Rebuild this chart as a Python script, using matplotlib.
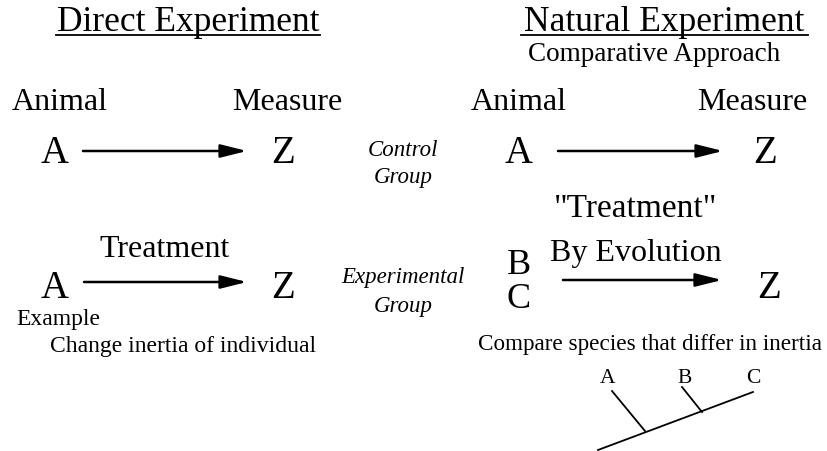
import matplotlib
matplotlib.use('Agg')
import matplotlib.pyplot as plt

plt.rcParams['font.family'] = 'serif'
plt.rcParams['font.serif'] = ['Liberation Serif', 'DejaVu Serif']

W, H = 828, 452

# headings
titles = ["Direct Experiment", "Natural Experiment"]
title_x = [188, 664]
title_span = [(56, 320), (521, 808)]

# column labels
col_labels = ["Animal", "Measure", "Animal", "Measure"]
col_x = [60, 287, 519, 752]

# group labels (italic)
groups = ["Control", "Group", "Experimental", "Group"]
group_y = [156, 183, 283, 312]

# tree tips
species = ["A", "B", "C"]
species_x = [608, 685, 753]

fig = plt.figure(figsize=(W / 100, H / 100), dpi=100)
ax = fig.add_axes([0, 0, 1, 1])
ax.set_xlim(0, W)
ax.set_ylim(H, 0)
ax.axis('off')


def txt(x, y, s, size, **kw):
    ax.text(x, y, s, fontsize=size, ha='center', va='baseline', **kw)


def arrow(x0, x1, y):
    ax.annotate("", xy=(x1, y), xytext=(x0, y),
                arrowprops=dict(arrowstyle="-|>,head_length=1.6,head_width=0.4",
                                color='black', lw=1.8, shrinkA=0, shrinkB=0))


for t, x, (x0, x1) in zip(titles, title_x, title_span):
    txt(x, 31, t, 25.5)
    ax.plot([x0, x1], [36, 36], color='black', lw=1.3)

txt(654, 61, "Comparative Approach", 19.5)

for t, x in zip(col_labels, col_x):
    txt(x, 110, t, 23)

big = 28
# control row
txt(55, 163, "A", big)
txt(283, 163, "Z", big)
arrow(83, 247, 152)
txt(519, 163, "A", big)
txt(765, 163, "Z", big)
arrow(558, 723, 152)

# treatment row, direct
txt(165, 257, "Treatment", 23)
txt(55, 298, "A", big)
txt(283, 298, "Z", big)
arrow(84, 247, 283)
txt(58, 325, "Example", 17)
txt(183, 352, "Change inertia of individual", 17)

# treatment row, natural
txt(636, 217, '"Treatment"', 24)
txt(636, 261, "By Evolution", 23)
txt(519, 274, "B", 26)
txt(519, 308, "C", 26)
arrow(563, 722, 281)
txt(769, 298, "Z", big)
txt(650, 350, "Compare species that differ in inertia", 16.7)

for g, y in zip(groups, group_y):
    txt(403, y, g, 16.5, style='italic')

# phylogeny
for s, x in zip(species, species_x):
    txt(x, 383, s, 15.5)
ax.plot([598, 753], [451, 393], color='black', lw=1.3)
ax.plot([612, 645], [392, 432], color='black', lw=1.3)
ax.plot([682, 702], [388, 413], color='black', lw=1.3)

fig.savefig("out.png", dpi=100)
